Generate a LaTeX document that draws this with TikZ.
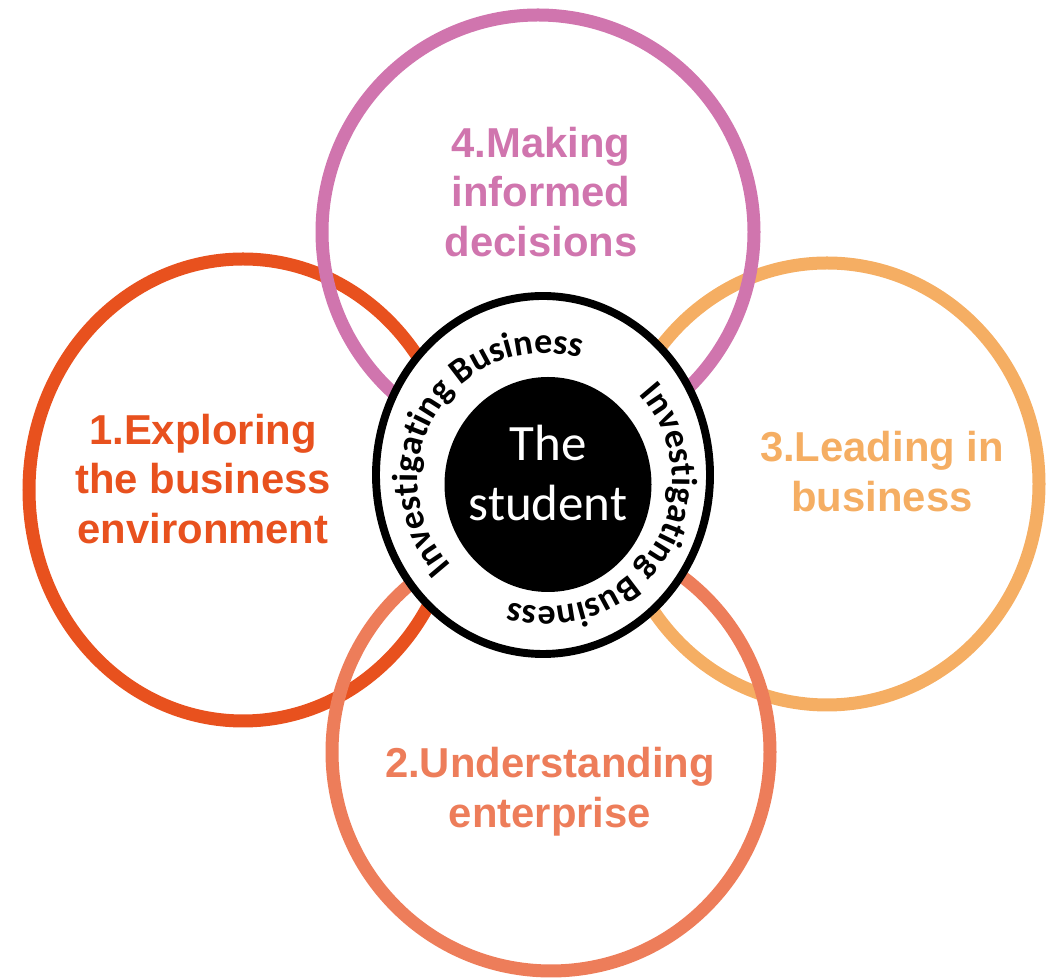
\documentclass[tikz,border=0pt]{standalone}
\usepackage{fontspec}
\setmainfont{Liberation Sans}
\newfontfamily\ringfont{Carlito}
\usetikzlibrary{decorations.text}
\definecolor{exploreorange}{RGB}{232, 81, 30}
\definecolor{decisionpink}{RGB}{208, 117, 174}
\definecolor{leadorange}{RGB}{245, 174, 99}
\definecolor{enterprisesalmon}{RGB}{237, 125, 90}

\begin{document}
\begin{tikzpicture}[x=0.02cm, y=0.02cm,
  bigring/.style={line width=7.4pt},
  ringlabel/.style={align=center, font=\bfseries\fontsize{23.8}{28.4}\selectfont},
  ringtext/.style={decorate, decoration={text along path, text align=center,
    text={|\ringfont\bfseries\fontsize{20.5}{23}\selectfont|#1}}}
]
  \useasboundingbox (0,0) rectangle (1048,980);
  \draw[bigring, exploreorange] (243,490) ellipse [x radius=214, y radius=231];
  \draw[bigring, leadorange] (827,496) ellipse [x radius=212, y radius=221];
  \draw[bigring, enterprisesalmon] (551,228) ellipse [x radius=219, y radius=219];
  \draw[bigring, decisionpink] (538,748) ellipse [x radius=216, y radius=217];
  \node[ringlabel, text=exploreorange] (explore) at (203,501) {1.Exploring\\the business\\environment};
  \node[ringlabel, text=enterprisesalmon] (enterprise) at (550,188) {2.Understanding\\enterprise};
  \node[ringlabel, text=leadorange] (lead) at (882,508) {3.Leading in\\business};
  \node[ringlabel, text=decisionpink] (decide) at (541,788) {4.Making\\informed\\decisions};
  % centre: the student
  \draw[line width=4.5pt, fill=white] (543,505) ellipse [x radius=167, y radius=179];
  \fill (548,495.5) ellipse [x radius=103.5, y radius=107.5];
  \node[text=white, align=center, font=\ringfont\fontsize{29}{34}\selectfont] (student) at (548,507) {The\\student};
  \coordinate (ringc) at (545,500);
  \path[ringtext={Investigating Business}] (ringc) ++(224:127) arc[start angle=224, end angle=72, radius=127];
  \path[ringtext={Investigating Business}] (ringc) ++(44:127) arc[start angle=44, end angle=-108, radius=127];
\end{tikzpicture}
\end{document}
